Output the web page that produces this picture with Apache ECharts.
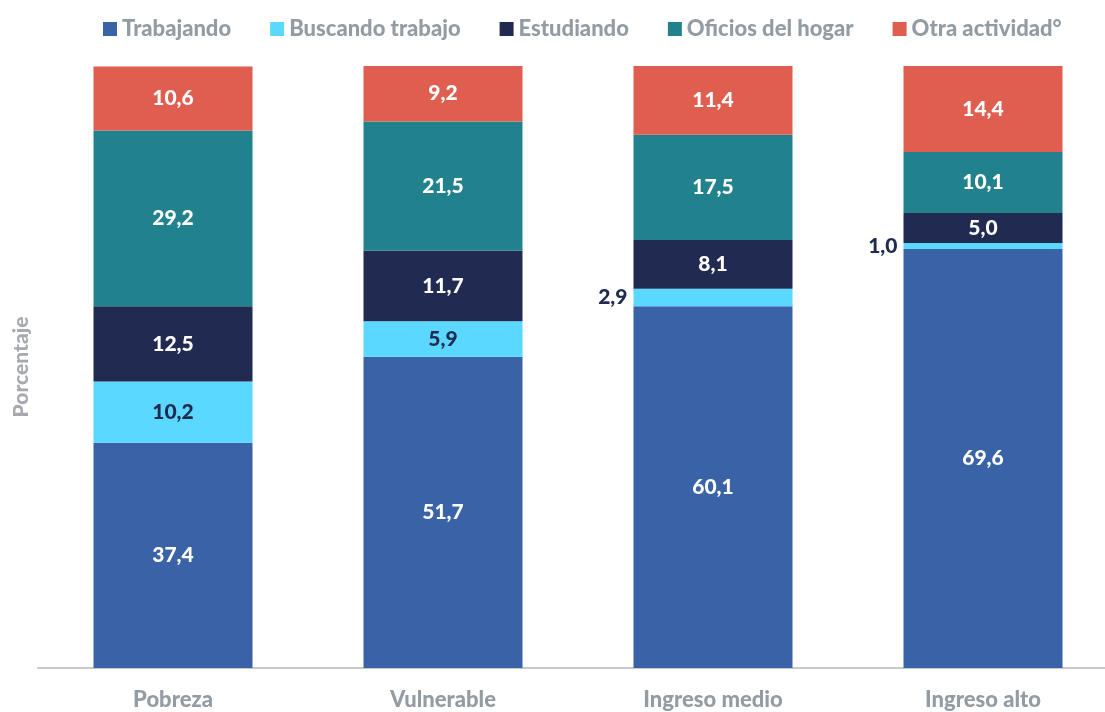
<!DOCTYPE html>
<html>
<head>
<meta charset="utf-8">
<script src="https://cdn.jsdelivr.net/npm/echarts@6/dist/echarts.min.js"></script>
<style>
  html, body { margin: 0; padding: 0; background: #fff; }
</style>
</head>
<body>
<div id="main" style="width: 1105px; height: 712px;"></div>
<script>
// categorías y series (porcentajes)
const categorias = ['Pobreza', 'Vulnerable', 'Ingreso medio', 'Ingreso alto'];
const trabajando = [37.4, 51.7, 60.1, 69.6];
const buscando = [10.2, 5.9, 2.9, 1.0];
const estudiando = [12.5, 11.7, 8.1, 5.0];
const oficios = [29.2, 21.5, 17.5, 10.1];
const otra = [10.6, 9.2, 11.4, 14.4];

const fuente = 'Lato, "Noto Sans", sans-serif';
const gris = '#939ba3';

function fmt(v) {
  return v.toFixed(1).replace('.', ',');
}

function serie(nombre, datos, color, colorTexto) {
  return {
    name: nombre,
    type: 'bar',
    stack: 'total',
    barWidth: 159,
    itemStyle: { color: color },
    label: {
      show: true,
      position: 'inside',
      color: colorTexto,
      fontFamily: fuente,
      fontWeight: 900,
      fontSize: 21,
      formatter: p => fmt(p.value)
    },
    data: datos.map(v => {
      // valores pequeños: etiqueta a la izquierda de la barra
      if (v < 4) {
        return { value: v, label: { position: 'left', distance: 6, color: '#212b52' } };
      }
      return v;
    })
  };
}

const myChart = echarts.init(document.getElementById('main'));
const option = {
  animation: false,
  legend: {
    top: 13,
    left: 98,
    itemWidth: 14,
    itemHeight: 14,
    itemGap: 39,
    icon: 'rect',
    textStyle: { color: gris, fontFamily: fuente, fontWeight: 900, fontSize: 22 },
    data: ['Trabajando', 'Buscando trabajo', 'Estudiando', 'Oficios del hogar', 'Otra actividad°']
  },
  grid: { left: 38, right: -13, top: 66, bottom: 44, outerBoundsMode: 'none', containLabel: false },
  xAxis: {
    type: 'category',
    data: categorias,
    axisTick: { show: false },
    axisLine: { lineStyle: { color: '#c8c8c8', width: 2 } },
    axisLabel: { color: gris, fontFamily: fuente, fontWeight: 900, fontSize: 22, margin: 21 }
  },
  yAxis: {
    type: 'value',
    min: 0,
    max: 100,
    name: 'Porcentaje',
    nameLocation: 'middle',
    nameGap: 6,
    nameRotate: 90,
    nameTextStyle: { color: '#a6aab0', fontFamily: fuente, fontWeight: 900, fontSize: 21 },
    axisLabel: { show: false },
    axisLine: { show: false },
    axisTick: { show: false },
    splitLine: { show: false }
  },
  series: [
    serie('Trabajando', trabajando, '#3a62a7', '#ffffff'),
    serie('Buscando trabajo', buscando, '#5bd8ff', '#212b52'),
    serie('Estudiando', estudiando, '#212b52', '#ffffff'),
    serie('Oficios del hogar', oficios, '#21818c', '#ffffff'),
    serie('Otra actividad°', otra, '#e05e4f', '#ffffff')
  ]
};
myChart.setOption(option);
</script>
</body>
</html>
